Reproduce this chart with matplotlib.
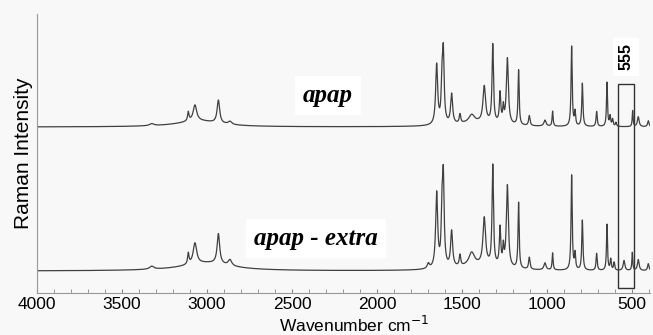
import numpy as np
import matplotlib.pyplot as plt
from matplotlib.patches import Rectangle

# peak tables: position (cm-1), height, width (FWHM, cm-1)
apap_pos = [3325, 3110, 3071, 3050, 2933, 2865, 1649, 1618, 1610, 1561, 1512, 1443, 1400,
            1369, 1319, 1276, 1257, 1233, 1167, 1104, 1012, 967, 855, 835, 792, 708,
            647, 629, 614, 594, 496, 463, 404]
apap_h = [2, 9, 16, 6, 23, 3, 60, 35, 70, 30, 9, 8, 4,
          36, 78, 30, 15, 66, 55, 10, 6, 15, 80, 14, 43, 15,
          44, 10, 7, 4, 16, 10, 6]
apap_w = [30, 10, 25, 300, 18, 25, 14, 10, 12, 14, 10, 40, 300,
          18, 10, 10, 8, 14, 8, 10, 15, 7, 8, 8, 8, 8,
          7, 8, 8, 8, 6, 12, 10]

extra_pos = [3325, 3110, 3071, 3000, 2933, 2865, 1698, 1649, 1618, 1610, 1561, 1512, 1443,
             1400, 1369, 1319, 1276, 1257, 1233, 1167, 1104, 1012, 967, 855, 835, 792,
             708, 647, 625, 605, 547, 498, 463, 404]
extra_h = [3, 11, 21, 8, 30, 6, 5, 75, 45, 88, 36, 11, 13,
           5, 47, 100, 38, 18, 82, 66, 12, 7, 17, 95, 16, 50,
           17, 46, 11, 8, 10, 18, 11, 7]
extra_w = [30, 10, 25, 350, 18, 25, 15, 14, 10, 12, 14, 10, 40,
           300, 18, 10, 10, 8, 14, 8, 10, 15, 7, 8, 8, 8,
           8, 7, 8, 8, 12, 6, 12, 10]

apap_offset = 144
box_lo, box_hi = 490, 580


def spectrum(x, pos, h, w):
    y = np.zeros_like(x)
    for c, a, fw in zip(pos, h, w):
        y += a / (1 + ((x - c) / (fw / 2)) ** 2)
    return y


wn = np.linspace(4000, 394, 8000)
y_apap = spectrum(wn, apap_pos, apap_h, apap_w) + apap_offset
y_extra = spectrum(wn, extra_pos, extra_h, extra_w)

plt.rcParams['font.family'] = ['Liberation Sans', 'DejaVu Sans']

fig = plt.figure(figsize=(6.53, 3.35), dpi=100, facecolor='#f8f8f8')
ax = fig.add_axes([37 / 653, 42 / 335, 613 / 653, 279 / 335])
ax.set_facecolor('#f8f8f8')

ax.plot(wn, y_apap, color='#404040', lw=0.9)
ax.plot(wn, y_extra, color='#404040', lw=0.9)

ax.set_xlim(4000, 394)
ax.set_ylim(-22, 257)

# highlighted band
ax.add_patch(Rectangle((box_lo, -17), box_hi - box_lo, 204, fill=False,
                       edgecolor='#333333', lw=1))
ax.text((box_lo + box_hi) / 2, 214, '555', rotation=90, ha='center', va='center',
        fontsize=11.5, fontweight='bold',
        bbox=dict(facecolor='white', edgecolor='none', pad=4))

serif = ['Liberation Serif', 'DejaVu Serif']
ax.text(2288, 169, 'apap', ha='center', va='baseline', fontsize=18,
        fontweight='bold', fontstyle='italic', family=serif,
        bbox=dict(facecolor='white', edgecolor='none', pad=6))
ax.text(2359, 26, 'apap - extra', ha='center', va='baseline', fontsize=18,
        fontweight='bold', fontstyle='italic', family=serif,
        bbox=dict(facecolor='white', edgecolor='none', pad=6))

ax.set_xticks(np.arange(4000, 499, -500))
ax.set_xticks(np.arange(4000, 399, -100), minor=True)
ax.set_yticks([])
ax.tick_params(axis='x', which='both', direction='in', length=3, color='#888888',
               labelsize=12.5, pad=3)
for side in ['top', 'right']:
    ax.spines[side].set_visible(False)
for side in ['left', 'bottom']:
    ax.spines[side].set_color('#999999')

ax.set_xlabel('Wavenumber cm$^{-1}$', fontsize=12.5)
ax.xaxis.set_label_coords(0.518, -0.078)
ax.set_ylabel('Raman Intensity', fontsize=15, labelpad=3)

fig.savefig('out.png', dpi=100, facecolor=fig.get_facecolor())
